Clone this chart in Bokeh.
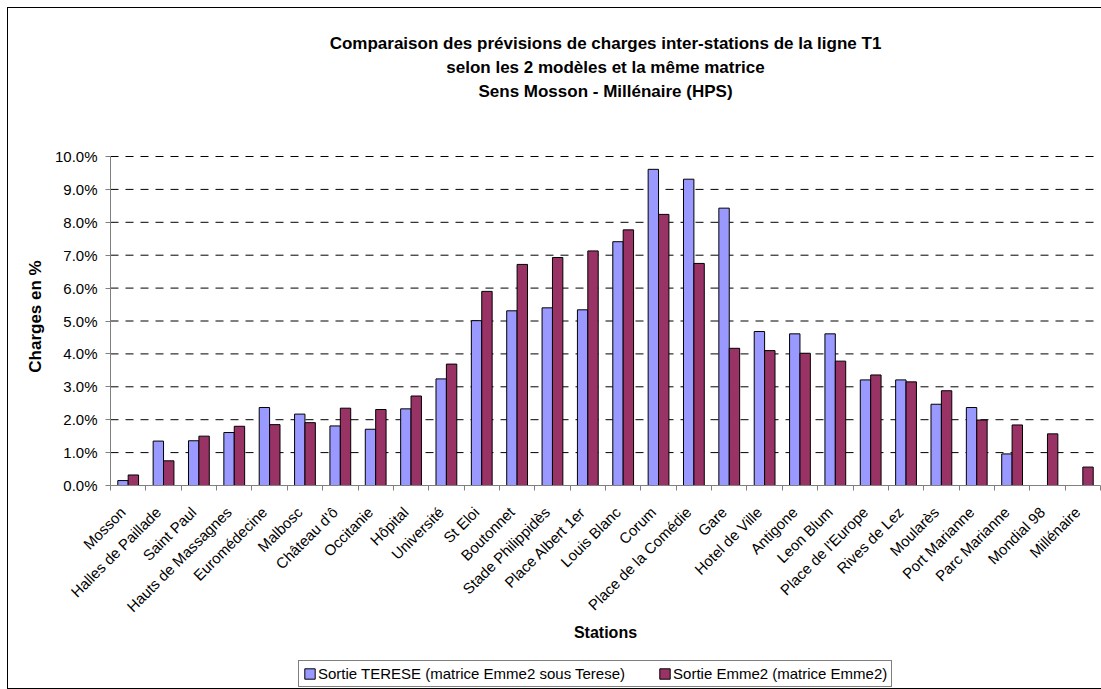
import math
from bokeh.plotting import figure
from bokeh.models import (ColumnDataSource, FixedTicker, Range1d, Legend, LegendItem,
                          PrintfTickFormatter)
from bokeh.transform import dodge
from bokeh.core.properties import value
from bokeh.embed import file_html
from bokeh.resources import INLINE

stations = ["Mosson", "Halles de Paillade", "Saint Paul", "Hauts de Massagnes", "Euromédecine",
            "Malbosc", "Château d'ô", "Occitanie", "Hôpital", "Université", "St Eloi",
            "Boutonnet", "Stade Philippidès", "Place Albert 1er", "Louis Blanc", "Corum",
            "Place de la Comédie", "Gare", "Hotel de Ville", "Antigone", "Leon Blum",
            "Place de l'Europe", "Rives de Lez", "Moularès", "Port Marianne", "Parc Marianne",
            "Mondial 98", "Millénaire"]
terese = [0.15, 1.35, 1.36, 1.61, 2.37, 2.17, 1.81, 1.71, 2.33, 3.24, 5.01, 5.31, 5.40, 5.34,
          7.41, 9.61, 9.31, 8.43, 4.68, 4.61, 4.61, 3.21, 3.21, 2.47, 2.37, 0.96,
          float("nan"), float("nan")]
emme2 = [0.32, 0.75, 1.50, 1.80, 1.85, 1.91, 2.35, 2.31, 2.72, 3.69, 5.90, 6.72, 6.93, 7.13,
         7.77, 8.24, 6.75, 4.17, 4.10, 4.02, 3.78, 3.36, 3.15, 2.88, 1.99, 1.84, 1.57, 0.56]
y_ticks = [0, 1, 2, 3, 4, 5, 6, 7, 8, 9, 10]
title_lines = ["Comparaison des prévisions de charges inter-stations de la ligne T1",
               "selon les 2 modèles et la même matrice",
               "Sens Mosson - Millénaire (HPS)"]
x_title = "Stations"
y_title = "Charges en %"
series_names = ["Sortie TERESE (matrice Emme2 sous Terese)", "Sortie Emme2 (matrice Emme2)"]
colors = ["#9999FF", "#993366"]

FONT = "Liberation Sans"
n = len(stations)
ymax = y_ticks[-1]

# page geometry (pixels): the plotting frame covers the whole canvas
W, H = 1101, 689
AX_X, AX_W = 110, 990          # value axis position, width of the category area
BASE_Y, AX_H = 485, 329        # 0 % line, height of 0..10 %
ppx = AX_W / n
ppy = AX_H / ymax


def ux(px):   # page x -> data x
    return (px - AX_X) / ppx


def uy(py):   # page y -> data y
    return (BASE_Y - py) / ppy


centers = [i + 0.5 for i in range(n)]
src = ColumnDataSource(dict(x=centers, terese=terese, emme2=emme2, name=stations))

p = figure(frame_width=W, frame_height=H,
           min_border_left=0, min_border_right=0, min_border_top=0, min_border_bottom=0,
           x_range=Range1d(ux(0), ux(W)), y_range=Range1d(uy(H), uy(0)),
           output_backend="svg", toolbar_location=None, tools="")
p.outline_line_color = None
p.border_fill_alpha = 0
p.background_fill_alpha = 0
p.xgrid.visible = False
p.ygrid.visible = False
p.styles = {
    "background-image": "linear-gradient(#000,#000), linear-gradient(#000,#000), linear-gradient(#000,#000)",
    "background-position": "7px 7px, 7px 7px, 7px 688px",
    "background-size": "1px 682px, 1094px 1px, 1094px 1px",
    "background-repeat": "no-repeat",
}

# dashed horizontal gridlines over the category area
p.segment(x0=0, x1=n, y0=y_ticks[1:], y1=y_ticks[1:], line_color="#000000",
          line_width=1, line_dash="8 7")

r1 = p.vbar(x=dodge("x", -0.147, range=p.x_range), top="terese", width=0.294, source=src,
            fill_color=colors[0], line_color="#000000", line_width=1)
r2 = p.vbar(x=dodge("x", 0.147, range=p.x_range), top="emme2", width=0.294, source=src,
            fill_color=colors[1], line_color="#000000", line_width=1)

# value axis, fixed at the left end of the category area
ya = p.yaxis[0]
ya.fixed_location = 0
ya.bounds = (0, ymax)
ya.ticker = FixedTicker(ticks=y_ticks)
ya.formatter = PrintfTickFormatter(format="%.1f%%")
ya.axis_line_color = "#808080"
ya.major_tick_line_color = "#808080"
ya.major_tick_out = 5
ya.major_tick_in = 0
ya.minor_tick_line_color = None
ya.major_label_text_font = FONT
ya.major_label_text_font_size = "15px"
ya.major_label_text_color = "#000000"
ya.major_label_standoff = 8

# category axis (boundary ticks), fixed at 0 %
xa = p.xaxis[0]
xa.fixed_location = 0
xa.bounds = (0, n)
bounds = list(range(0, n + 1))
xa.ticker = FixedTicker(ticks=bounds)
xa.major_label_overrides = {b: "" for b in bounds}
xa.major_label_text_font_size = "0px"
xa.major_label_standoff = 0
xa.axis_line_color = "#808080"
xa.major_tick_line_color = "#808080"
xa.major_tick_out = 5
xa.major_tick_in = 0
xa.minor_tick_line_color = None

# category labels
p.text(x=dodge("x", -0.15, range=p.x_range), y=uy(509), text="name", source=src,
       angle=math.pi / 4, text_align="right", text_baseline="middle", text_font=value(FONT),
       text_font_size="15px", text_color="#000000")

# titles
p.text(x=[n / 2] * 3, y=[uy(43), uy(67), uy(91)], text=title_lines, text_align="center",
       text_baseline="middle", text_font=value(FONT), text_font_size="17px",
       text_font_style="bold", text_color="#000000")
p.text(x=[n / 2], y=[uy(632)], text=[x_title], text_align="center", text_baseline="middle",
       text_font=value(FONT), text_font_size="16px", text_font_style="bold",
       text_color="#000000")
p.text(x=[ux(35)], y=[uy(316)], text=[y_title], angle=math.pi / 2, text_align="center",
       text_baseline="middle", text_font=value(FONT), text_font_size="17px",
       text_font_style="bold", text_color="#000000")

legend = Legend(items=[LegendItem(label=series_names[0], renderers=[r1]),
                       LegendItem(label=series_names[1], renderers=[r2])],
                location=(298, 2), orientation="horizontal")
legend.border_line_color = "#000000"
legend.border_line_width = 1
legend.background_fill_color = "#ffffff"
legend.background_fill_alpha = 1
legend.label_text_font = FONT
legend.label_text_font_size = "15px"
legend.label_text_color = "#000000"
legend.glyph_width = 13
legend.glyph_height = 13
legend.label_standoff = 2
legend.spacing = 33
legend.padding = 4
legend.margin = 0
legend.label_height = 16
p.add_layout(legend)

open("out.html", "w").write(file_html(p, INLINE))
